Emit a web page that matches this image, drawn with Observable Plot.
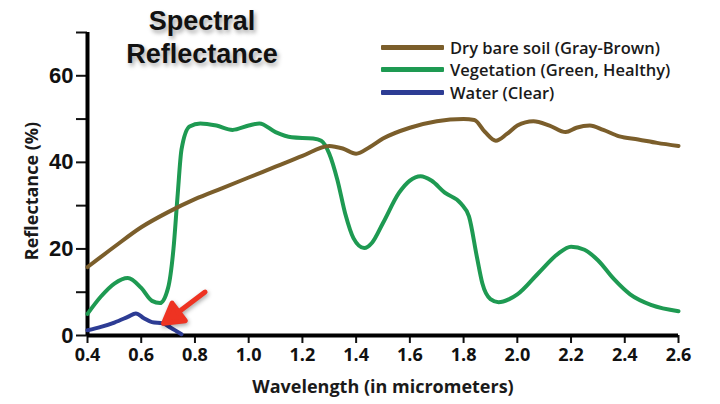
<!DOCTYPE html>
<html>
<head>
<meta charset="utf-8">
<script src="https://cdn.jsdelivr.net/npm/d3@7"></script>
<script src="https://cdn.jsdelivr.net/npm/@observablehq/plot@0.6"></script>
<style>
  body { margin: 0; background: #fff; }
  #wrap { position: relative; width: 720px; height: 404px; }
  #title {
    position: absolute; left: 100px; top: 5px; width: 204px;
    text-align: center; font: bold 27px "Liberation Sans", sans-serif;
    line-height: 33px; color: #111;
    text-shadow: 2px 3px 4px rgba(0,0,0,0.35);
  }
  #legend { position: absolute; left: 381px; top: 36px; font: 600 16.5px "Open Sans", sans-serif; color: #1a1a1a; }
  #legend .row { display: flex; align-items: center; height: 22.5px; }
  #legend .sw { width: 63px; height: 5px; margin-right: 6px; border-radius: 1px; }
  g[aria-label="vector"] { filter: drop-shadow(1px 2px 2px rgba(0,0,0,0.35)); }
</style>
</head>
<body>
<div id="wrap">
  <div id="chart"></div>
  <div id="title">Spectral<br>Reflectance</div>
  <div id="legend"></div>
</div>
<script>
// Reflectance (%) against wavelength (micrometers) for three surface types
const seriesNames = ["Dry bare soil (Gray-Brown)", "Vegetation (Green, Healthy)", "Water (Clear)"];
const seriesColors = ["#7b5e2b", "#1e9a52", "#2d3c94"];

const drySoil = [
  [0.4, 15.8], [0.5, 20.5], [0.6, 25], [0.7, 28.5], [0.8, 31.5], [0.9, 34], [1.0, 36.5],
  [1.1, 39], [1.2, 41.5], [1.3, 43.8], [1.35, 43.2], [1.4, 42], [1.45, 43.5], [1.5, 45.5],
  [1.6, 48], [1.7, 49.5], [1.8, 50], [1.84, 49.8], [1.88, 47], [1.92, 45], [1.96, 46.5],
  [2.0, 48.5], [2.06, 49.5], [2.12, 48.5], [2.18, 47], [2.22, 48], [2.27, 48.5], [2.32, 47.5],
  [2.38, 46], [2.45, 45.3], [2.52, 44.5], [2.6, 43.8]
];

const vegetation = [
  [0.4, 5], [0.45, 9], [0.5, 12], [0.55, 13.3], [0.6, 11], [0.64, 8], [0.67, 7.5], [0.7, 11],
  [0.72, 20], [0.735, 32], [0.75, 43], [0.78, 48.3], [0.82, 49], [0.88, 48.5], [0.94, 47.5],
  [1.0, 48.5], [1.04, 49], [1.1, 47], [1.16, 45.8], [1.24, 45.5], [1.27, 45], [1.3, 42],
  [1.33, 36], [1.36, 28], [1.39, 22.5], [1.43, 20.2], [1.46, 21.5], [1.5, 26], [1.56, 33],
  [1.6, 35.8], [1.64, 36.8], [1.68, 35.8], [1.73, 33], [1.79, 30.5], [1.82, 27.5], [1.85, 18],
  [1.87, 12], [1.9, 8.4], [1.93, 7.7], [1.97, 8.4], [2.0, 9.5], [2.08, 14.5], [2.15, 18.8],
  [2.2, 20.5], [2.25, 19.8], [2.3, 17.4], [2.36, 13], [2.42, 9.5], [2.5, 7], [2.6, 5.6]
];

const water = [
  [0.4, 1.2], [0.45, 2], [0.5, 3], [0.55, 4.3], [0.58, 5.1], [0.61, 4], [0.64, 3.1],
  [0.68, 2.8], [0.71, 1.8], [0.75, 0.3]
];

const xTicks = [0.4, 0.6, 0.8, 1.0, 1.2, 1.4, 1.6, 1.8, 2.0, 2.2, 2.4, 2.6];
const yTicks = [0, 10, 20, 30, 40, 50, 60, 70];
const yLabeled = [0, 20, 40, 60];

// the red pointer aimed at the water curve
const pointer = [{x: 0.683, y: 2.8}];

const rows = [
  ...vegetation.map(([x, y]) => ({series: seriesNames[1], x, y})),
  ...drySoil.map(([x, y]) => ({series: seriesNames[0], x, y})),
  ...water.map(([x, y]) => ({series: seriesNames[2], x, y}))
];

// shaft plus filled head, drawn pointing "up" then rotated by Plot.vector
const pointerShape = {
  draw(context, l) {
    const h = 19, w = 11;
    context.moveTo(-w, -l + h);
    context.lineTo(0, -l);
    context.lineTo(w, -l + h);
    context.closePath();
    context.moveTo(0, 0);
    context.lineTo(0, -l + h - 1);
  }
};

const chart = Plot.plot({
  width: 720,
  height: 404,
  marginLeft: 87,
  marginRight: 42,
  marginTop: 32,
  marginBottom: 69,
  style: {fontFamily: "'Open Sans', sans-serif", color: "#111", background: "#fff"},
  x: {domain: [0.4, 2.6]},
  y: {domain: [0, 70]},
  color: {domain: seriesNames, range: seriesColors},
  marks: [
    Plot.axisY({
      ticks: yTicks, tickSize: 11, tickPadding: 3, strokeWidth: 2,
      tickFormat: d => yLabeled.includes(d) ? String(d) : "",
      fontSize: 22, fontWeight: "bold", fontFamily: "'Liberation Sans', sans-serif", label: null
    }),
    Plot.axisX({
      ticks: xTicks, tickSize: 8, tickPadding: 5, strokeWidth: 2,
      tickFormat: d3.format(".1f"),
      fontSize: 18, fontWeight: "bold", label: null
    }),
    Plot.ruleX([0.4], {y1: 0, y2: 70, strokeWidth: 4, stroke: "#000"}),
    Plot.ruleY([0], {x1: 0.4, x2: 2.6, strokeWidth: 4, stroke: "#000"}),
    Plot.line(rows, {x: "x", y: "y", z: "series", stroke: "series", strokeWidth: 4, curve: "monotone-x", strokeLinecap: "round"}),
    Plot.vector(pointer, {
      x: "x", y: "y", anchor: "end", rotate: 233, length: 52,
      shape: pointerShape, stroke: "#ee3322", fill: "#ee3322", strokeWidth: 5, strokeLinejoin: "round"
    }),
    Plot.text(["Reflectance (%)"], {frameAnchor: "left", textAnchor: "middle", dx: -55, dy: 7, rotate: -90, fontSize: 18, fontWeight: "bold", fill: "#1a1a1a"}),
    Plot.text(["Wavelength (in micrometers)"], {frameAnchor: "bottom", dy: 57, fontSize: 18, fontWeight: "bold", fill: "#1a1a1a"})
  ]
});
document.getElementById("chart").append(chart);

// legend rows
const legend = d3.select("#legend");
seriesNames.forEach((name, i) => {
  const row = legend.append("div").attr("class", "row");
  row.append("div").attr("class", "sw").style("background", seriesColors[i]);
  row.append("span").text(name);
});
</script>
</body>
</html>
